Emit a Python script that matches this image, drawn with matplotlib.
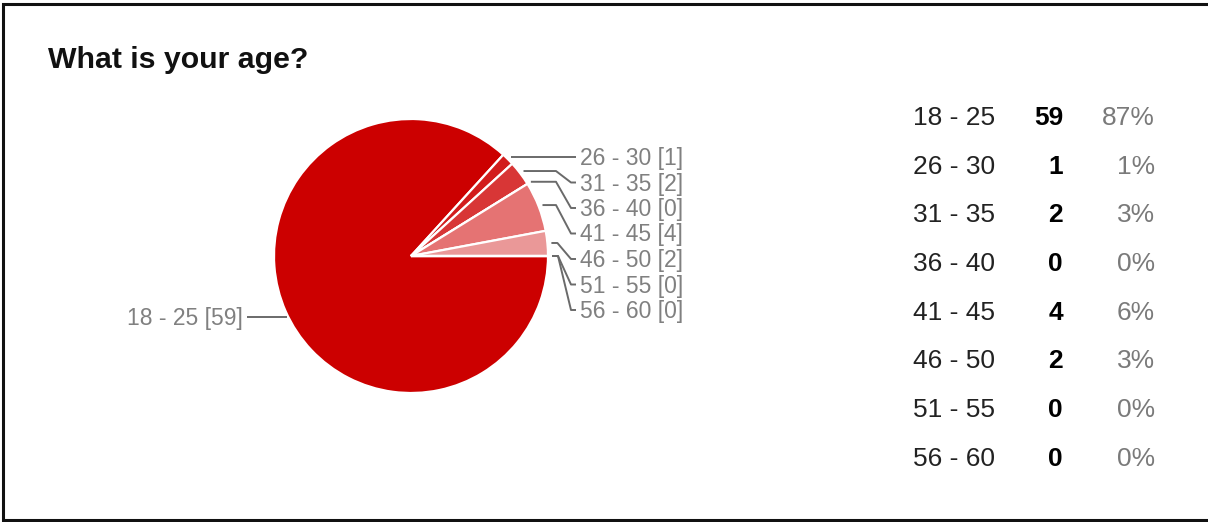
import numpy as np
import matplotlib
matplotlib.use("Agg")
import matplotlib.pyplot as plt

# Survey answers: age brackets and number of responses
ages = ["18 - 25", "26 - 30", "31 - 35", "36 - 40", "41 - 45", "46 - 50", "51 - 55", "56 - 60"]
counts = [59, 1, 2, 0, 4, 2, 0, 0]
slice_colors = ["#cc0000", "#d21c1c", "#d83636", "#dc5050", "#e57373", "#ea9898", "#efb2b2", "#f4caca"]

title = "What is your age?"
FONT = "Liberation Sans"

W, H = 1208, 522
fig = plt.figure(figsize=(W / 100, H / 100), dpi=100)
ax = fig.add_axes([0, 0, 1, 1])

# pie laid out in pixel coordinates (y grows downward)
cx, cy, R = 411, 256, 137
total = sum(counts)
ax.pie(counts, colors=slice_colors, startangle=0, counterclock=True,
       center=(cx, cy), radius=R,
       wedgeprops=dict(edgecolor="white", linewidth=1.6))
ax.set_xlim(0, W)
ax.set_ylim(H, 0)
ax.set_aspect("auto")
ax.axis("off")

line_kw = dict(color="#6a6a6a", lw=1.4, solid_capstyle="butt")
lab_kw = dict(fontsize=16.5, color="#808080", family=FONT)

# leader lines and labels
cum = np.cumsum([0] + counts)
label_x = 580
for i, (name, v) in enumerate(zip(ages, counts)):
    theta = np.deg2rad((cum[i] + v / 2) / total * 360)
    ax_ = cx + (R + 4) * np.cos(theta)
    ay_ = cy + (R + 4) * np.sin(theta)
    text = f"{name} [{v}]"
    if i == 0:
        # the large slice gets its label on the left side
        ly = ay_ + 4
        ax.plot([cx + R * np.cos(theta) + 1, 247], [ly, ly], **line_kw)
        ax.text(243, ly + 8, text, ha="right", va="baseline", **lab_kw)
        continue
    ly = 157 + 25.5 * (i - 1)
    if abs(ly - ay_) < 3:
        ax.plot([ax_, 576], [ly, ly], **line_kw)
    else:
        knee = max(ax_ + 6, 556)
        ax.plot([ax_, knee, 571, 576], [ay_, ay_, ly, ly], **line_kw)
    ax.text(label_x, ly + 8, text, ha="left", va="baseline", **lab_kw)

# title
ax.text(48, 68, title, ha="left", va="baseline", fontsize=21.8, fontweight="bold",
        color="#111111", family=FONT)

# summary table
tab_kw = dict(fontsize=19, family=FONT, va="baseline")
for i, (name, v) in enumerate(zip(ages, counts)):
    by = 125 + 48.7 * i
    pct = round(100 * v / total)
    ax.text(913, by, name, ha="left", color="#222222", **tab_kw)
    ax.text(1063, by, str(v), ha="right", color="#000000", fontweight="bold", **tab_kw)
    ax.text(1155, by, f"{pct}%", ha="right", color="#7a7a7a", **tab_kw)

# outer frame
ax.plot([W + 5, 2.5, 2.5, W + 5], [3.5, 3.5, 519.5, 519.5], color="#111111", lw=2.2,
        solid_joinstyle="miter")

fig.savefig("out.png", dpi=100, facecolor="white")
